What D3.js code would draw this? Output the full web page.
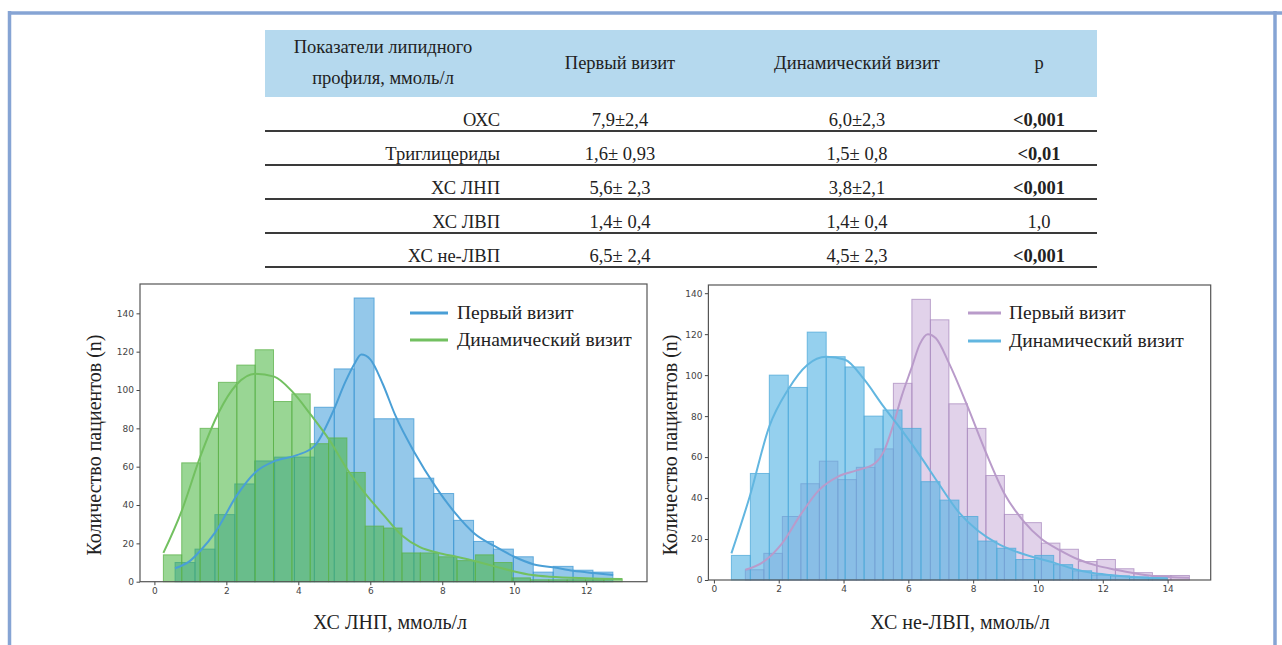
<!DOCTYPE html>
<html>
<head>
<meta charset="utf-8">
<script src="https://cdn.jsdelivr.net/npm/d3@7"></script>
<style>
  body { margin: 0; background: #fff; }
  svg { display: block; }
  .serif { font-family: "Liberation Serif", "Times New Roman", "DejaVu Serif", serif; }
  .tick text { font-family: "DejaVu Sans", sans-serif; }
</style>
</head>
<body>
<svg id="chart" width="1282" height="645"></svg>
<script>
/*
** Table data
 */
var headerFirstCol = ['Показатели липидного', 'профиля, ммоль/л'];
var headerCols = ['Первый визит', 'Динамический визит', 'p'];
var rowLabels = ['ОХС', 'Триглицериды', 'ХС ЛНП', 'ХС ЛВП', 'ХС не-ЛВП'];
var firstVisit = ['7,9±2,4', '1,6± 0,93', '5,6± 2,3', '1,4± 0,4', '6,5± 2,4'];
var dynamicVisit = ['6,0±2,3', '1,5± 0,8', '3,8±2,1', '1,4± 0,4', '4,5± 2,3'];
var pValues = ['<0,001', '<0,01', '<0,001', '1,0', '<0,001'];

/*
** Histogram data (bin start, bin width, counts) + kde points
 */
var legendLabels = ['Первый визит', 'Динамический визит'];
var yTicks = [0, 20, 40, 60, 80, 100, 120, 140];

// ХС ЛНП
var ldlTicks = [0, 2, 4, 6, 8, 10, 12];
var ldlFirstStart = 0.575, ldlFirstWidth = 0.553;
var ldlFirstCounts = [10, 17, 35, 51, 63, 65, 65, 91, 111, 148, 85, 85, 54, 46, 32, 21, 17, 13, 5, 8, 6, 5];
var ldlDynStart = 0.25, ldlDynWidth = 0.51;
var ldlDynCounts = [14, 62, 80, 104, 113, 121, 94, 98, 72, 75, 57, 29, 28, 15, 15, 13, 11, 14, 10, 2, 1, 1, 1, 1, 1.5];
var ldlFirstKde = [[0.575, 7], [1.0, 11], [1.27, 16], [1.7, 26], [2.29, 45], [2.8, 57], [3.35, 63], [3.96, 66],
    [4.46, 71], [4.97, 89], [5.3, 104], [5.57, 114], [5.75, 118.5], [6.0, 116], [6.35, 103], [6.69, 87],
    [7.24, 67], [7.8, 50], [8.35, 36], [8.9, 25], [9.46, 18.5], [10.0, 13], [10.55, 9], [11.08, 7.5],
    [11.64, 5.7], [12.2, 4.5], [12.75, 3.5]];
var ldlDynKde = [[0.25, 15], [0.76, 37], [1.27, 65], [1.78, 88], [2.29, 103], [2.8, 108.5], [3.33, 107],
    [3.84, 99], [4.35, 87], [4.86, 74], [5.38, 58], [5.9, 45], [6.36, 35], [6.89, 24], [7.38, 18], [7.9, 15],
    [8.4, 13], [8.95, 10.5], [9.46, 8], [9.97, 5.5], [10.5, 3.5], [11.0, 2.6], [12.0, 1.8], [13.0, 1.4]];

// ХС не-ЛВП
var nonHdlTicks = [0, 2, 4, 6, 8, 10, 12, 14];
var nonHdlFirstStart = 0.97, nonHdlFirstWidth = 0.571;
var nonHdlFirstCounts = [5, 13, 31, 47, 58, 49, 55, 64, 96, 137, 127, 86, 74, 51, 32, 28, 18, 15, 9, 10, 5.5, 3.6, 2.2, 2.2];
var nonHdlDynStart = 0.54, nonHdlDynWidth = 0.585;
var nonHdlDynCounts = [12, 52, 100, 94, 121, 109, 104, 80, 83, 74, 48, 39, 31, 19, 15.5, 10, 12, 7.5, 4.5, 2.5, 2, 1.5, 1];
var nonHdlFirstKde = [[0.97, 5], [1.54, 9], [2.11, 18], [2.68, 32], [3.25, 44], [3.83, 50.5], [4.4, 53.5],
    [4.97, 57], [5.25, 63], [5.54, 76], [5.8, 90], [6.11, 104], [6.35, 115], [6.6, 120], [6.85, 118],
    [7.25, 106], [7.82, 85], [8.4, 62], [8.97, 42], [9.54, 29], [10.11, 20], [10.68, 14.5], [11.25, 10],
    [11.82, 7], [12.4, 5], [12.97, 3.3], [13.54, 2], [14.67, 1.1]];
var nonHdlDynKde = [[0.54, 13], [1.11, 41], [1.71, 75], [2.29, 93], [2.88, 105], [3.47, 109], [4.05, 107.5],
    [4.63, 98], [5.22, 85], [5.8, 73], [6.39, 60], [6.98, 46], [7.56, 33], [8.15, 24], [8.73, 18], [9.3, 14],
    [9.9, 11], [10.49, 8.5], [11.07, 5.5], [11.65, 3.5], [12.24, 2.4], [12.8, 1.6], [14.0, 0.8]];

var svg = d3.select('#chart');

svg.append('rect').attr('width', 1282).attr('height', 645).attr('fill', '#fff');

/*
** Outer blue frame
 */
var frameColor = '#86a4d4';
svg.append('line').attr('x1', 8).attr('x2', 1282).attr('y1', 13).attr('y2', 13)
    .attr('stroke', frameColor).attr('stroke-width', 3.5);
svg.append('line').attr('x1', 9.5).attr('x2', 9.5).attr('y1', 11).attr('y2', 645)
    .attr('stroke', frameColor).attr('stroke-width', 3.5);
svg.append('line').attr('x1', 1275).attr('x2', 1275).attr('y1', 11).attr('y2', 645)
    .attr('stroke', frameColor).attr('stroke-width', 3.5);

/*
** Table
 */
function drawTable() {
    var t = svg.append('g').attr('class', 'serif').attr('fill', '#222');
    var tLeft = 265, tRight = 1097;
    var colX = [500, 620, 857, 1039];

    t.append('rect').attr('x', tLeft).attr('y', 30).attr('width', tRight - tLeft).attr('height', 67)
        .attr('fill', '#b5d9ee');

    t.selectAll('.h1').data(headerFirstCol).enter().append('text')
        .attr('x', 383).attr('y', function (d, i) { return 53 + i * 31; })
        .attr('text-anchor', 'middle').attr('font-size', 18.5).text(function (d) { return d; });
    t.selectAll('.h2').data(headerCols).enter().append('text')
        .attr('x', function (d, i) { return colX[i + 1]; }).attr('y', 69)
        .attr('text-anchor', 'middle').attr('font-size', 18.5).text(function (d) { return d; });

    var rows = d3.scaleBand().domain(rowLabels).range([97, 267]);

    rowLabels.forEach(function (label, i) {
        var yb = rows(label) + rows.bandwidth() - 5;
        t.append('text').attr('x', colX[0]).attr('y', yb).attr('text-anchor', 'end')
            .attr('font-size', 18.5).text(label);
        t.append('text').attr('x', colX[1]).attr('y', yb).attr('text-anchor', 'middle')
            .attr('font-size', 18.5).text(firstVisit[i]);
        t.append('text').attr('x', colX[2]).attr('y', yb).attr('text-anchor', 'middle')
            .attr('font-size', 18.5).text(dynamicVisit[i]);
        t.append('text').attr('x', colX[3]).attr('y', yb).attr('text-anchor', 'middle')
            .attr('font-size', 18.5).attr('font-weight', pValues[i] == '1,0' ? 'normal' : 'bold')
            .text(pValues[i]);
        t.append('line').attr('x1', tLeft).attr('x2', tRight)
            .attr('y1', rows(label) + rows.bandwidth()).attr('y2', rows(label) + rows.bandwidth())
            .attr('stroke', '#3a3a3a').attr('stroke-width', 2);
    });
}

/*
** Histogram panel
 */
function drawPanel(cfg) {
    var g = svg.append('g');
    var x = d3.scaleLinear().domain(cfg.xDomain).range([cfg.left, cfg.right]);
    var y = d3.scaleLinear().domain(cfg.yDomain).range([cfg.bottom, cfg.top]);

    cfg.series.forEach(function (s) {
        g.append('g').selectAll('rect').data(s.counts).enter().append('rect')
            .attr('x', function (d, i) { return x(s.start + i * s.width); })
            .attr('width', function (d, i) { return x(s.start + (i + 1) * s.width) - x(s.start + i * s.width); })
            .attr('y', function (d) { return y(d); })
            .attr('height', function (d) { return y(0) - y(d); })
            .attr('fill', s.fill).attr('fill-opacity', s.opacity)
            .attr('stroke', s.edge).attr('stroke-opacity', 0.75).attr('stroke-width', 1);
    });

    var line = d3.line()
        .x(function (d) { return x(d[0]); })
        .y(function (d) { return y(d[1]); })
        .curve(d3.curveMonotoneX);

    cfg.series.forEach(function (s) {
        g.append('path').datum(s.kde).attr('d', line)
            .attr('fill', 'none').attr('stroke', s.line).attr('stroke-width', 2);
    });

    // axes
    var xAxis = g.append('g').attr('transform', 'translate(0,' + cfg.bottom + ')')
        .call(d3.axisBottom(x).tickValues(cfg.xTicks).tickSize(3.5).tickSizeOuter(0).tickPadding(2.5));
    var yAxis = g.append('g').attr('transform', 'translate(' + cfg.left + ',0)')
        .call(d3.axisLeft(y).tickValues(yTicks).tickSize(3.5).tickSizeOuter(0).tickPadding(2.5));
    [xAxis, yAxis].forEach(function (a) {
        a.attr('font-family', null).attr('font-size', null);
        a.select('.domain').remove();
        a.selectAll('line').attr('stroke', '#444');
        a.selectAll('text').attr('fill', '#444').style('font-size', cfg.tickFont + 'px');
    });

    g.append('rect').attr('x', cfg.left).attr('y', cfg.top)
        .attr('width', cfg.right - cfg.left).attr('height', cfg.bottom - cfg.top)
        .attr('fill', 'none').attr('stroke', '#555').attr('stroke-width', 1.2);

    // labels
    g.append('text').attr('class', 'serif').attr('x', cfg.xLabelX).attr('y', 629).attr('text-anchor', 'middle')
        .attr('font-size', 20).attr('fill', '#222').text(cfg.xLabel);
    g.append('text').attr('class', 'serif').attr('transform', 'translate(' + cfg.yLabelX + ',445) rotate(-90)')
        .attr('text-anchor', 'middle').attr('font-size', 20)
        .attr('fill', '#222').text('Количество пациентов (n)');

    // legend
    cfg.series.forEach(function (s, i) {
        var ly = cfg.legendY[i];
        g.append('line').attr('x1', cfg.legendX[0]).attr('x2', cfg.legendX[1])
            .attr('y1', ly).attr('y2', ly).attr('stroke', s.line).attr('stroke-width', 3);
        g.append('text').attr('class', 'serif').attr('x', cfg.legendX[2]).attr('y', ly).attr('dy', '0.33em')
            .attr('font-size', 19.5).attr('fill', '#222')
            .text(legendLabels[i]);
    });
}

drawTable();

drawPanel({
    left: 140, right: 647, top: 284, bottom: 581.7,
    xDomain: [-0.4, 13.69], yDomain: [0, 155.3], xTicks: ldlTicks, tickFont: 9,
    xLabel: 'ХС ЛНП, ммоль/л', xLabelX: 390, yLabelX: 101,
    legendX: [410, 448, 457], legendY: [313, 340],
    series: [
        {start: ldlFirstStart, width: ldlFirstWidth, counts: ldlFirstCounts, kde: ldlFirstKde,
            fill: '#3c9bd9', opacity: 0.55, edge: '#3f98d3', line: '#4a9fd6'},
        {start: ldlDynStart, width: ldlDynWidth, counts: ldlDynCounts, kde: ldlDynKde,
            fill: '#46b43c', opacity: 0.55, edge: '#5cb24a', line: '#72c060'}
    ]
});

drawPanel({
    left: 708.4, right: 1210.7, top: 285, bottom: 580,
    xDomain: [-0.17, 15.33], yDomain: [0, 144], xTicks: nonHdlTicks, tickFont: 9,
    xLabel: 'ХС не-ЛВП, ммоль/л', xLabelX: 960, yLabelX: 677,
    legendX: [968, 1001, 1009], legendY: [313, 341],
    series: [
        {start: nonHdlFirstStart, width: nonHdlFirstWidth, counts: nonHdlFirstCounts, kde: nonHdlFirstKde,
            fill: '#b48fcb', opacity: 0.4, edge: '#a98bbf', line: '#b99bca'},
        {start: nonHdlDynStart, width: nonHdlDynWidth, counts: nonHdlDynCounts, kde: nonHdlDynKde,
            fill: '#4fb0e2', opacity: 0.6, edge: '#4ea8d8', line: '#62b6e0'}
    ]
});
</script>
</body>
</html>
